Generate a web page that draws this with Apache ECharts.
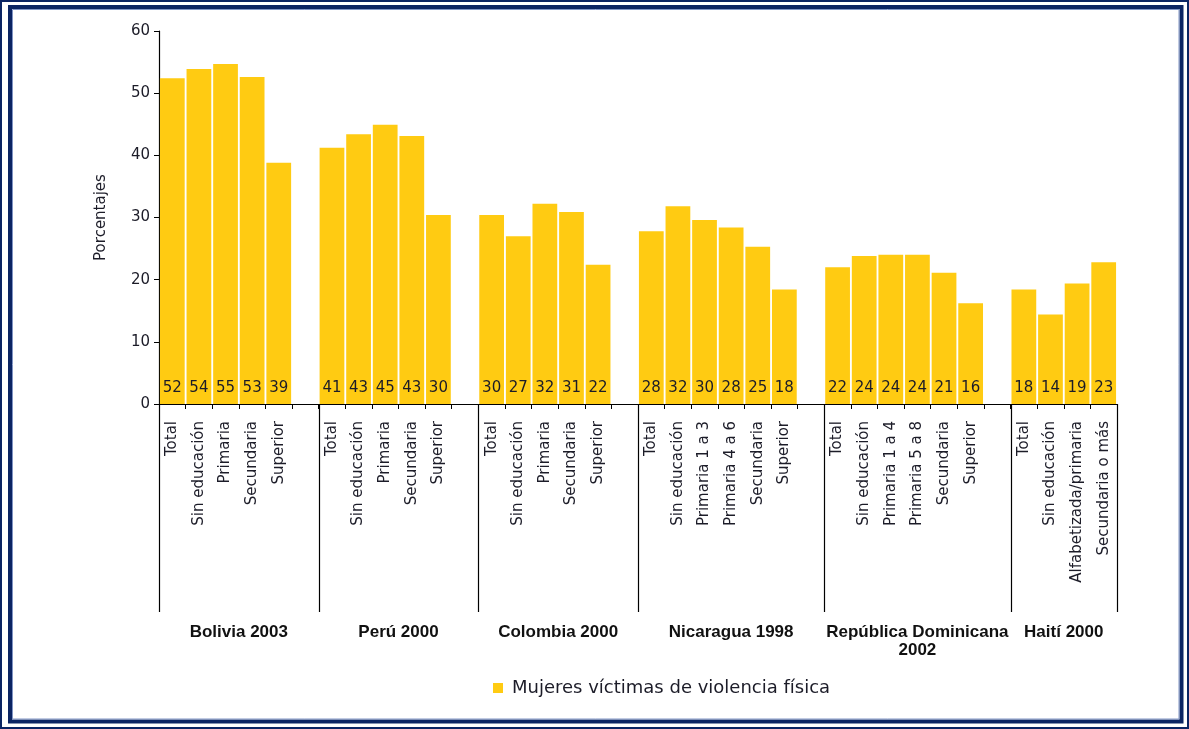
<!DOCTYPE html>
<html>
<head>
<meta charset="utf-8">
<script src="https://cdn.jsdelivr.net/npm/echarts@6/dist/echarts.min.js"></script>
<style>
html,body{margin:0;padding:0;background:#fff;}
#chart{width:1189px;height:729px;}
</style>
</head>
<body>
<div id="chart"></div>
<script>
// ---- Data ----
const groupNames = ['Bolivia 2003', 'Perú 2000', 'Colombia 2000', 'Nicaragua 1998', 'República Dominicana\n2002', 'Haití 2000'];
const boliviaLevels = ['Total', 'Sin educación', 'Primaria', 'Secundaria', 'Superior'];
const boliviaValues = [52.4, 53.9, 54.7, 52.6, 38.8];
const peruLevels = ['Total', 'Sin educación', 'Primaria', 'Secundaria', 'Superior'];
const peruValues = [41.2, 43.4, 44.9, 43.1, 30.4];
const colombiaLevels = ['Total', 'Sin educación', 'Primaria', 'Secundaria', 'Superior'];
const colombiaValues = [30.4, 27.0, 32.2, 30.9, 22.4];
const nicaraguaLevels = ['Total', 'Sin educación', 'Primaria 1 a 3', 'Primaria 4 a 6', 'Secundaria', 'Superior'];
const nicaraguaValues = [27.8, 31.8, 29.6, 28.4, 25.3, 18.4];
const dominicanaLevels = ['Total', 'Sin educación', 'Primaria 1 a 4', 'Primaria 5 a 8', 'Secundaria', 'Superior'];
const dominicanaValues = [22.0, 23.8, 24.0, 24.0, 21.1, 16.2];
const haitiLevels = ['Total', 'Sin educación', 'Alfabetizada/primaria', 'Secundaria o más'];
const haitiValues = [18.4, 14.4, 19.4, 22.8];
const seriesName = 'Mujeres víctimas de violencia física';
const yTicks = [0, 10, 20, 30, 40, 50, 60];

// ---- Build flat category list with a blank slot after each group ----
const groupLevels = [boliviaLevels, peruLevels, colombiaLevels, nicaraguaLevels, dominicanaLevels, haitiLevels];
const groupValues = [boliviaValues, peruValues, colombiaValues, nicaraguaValues, dominicanaValues, haitiValues];
const catKeys = [], catLabels = [], barData = [], groupStart = [];
groupLevels.forEach((lv, g) => {
  groupStart.push(catKeys.length);
  lv.forEach((l, i) => {
    catKeys.push('c' + catKeys.length);
    catLabels.push(l);
    barData.push(groupValues[g][i]);
  });
  if (g < groupLevels.length - 1) {
    catKeys.push('c' + catKeys.length);
    catLabels.push('');
    barData.push(null);
  }
});
const groupEnd = groupStart.slice(1).concat([catKeys.length]);

const FONT = 'DejaVu Sans';
const TXT = '#1c1c28';
const NAVY = '#0b2463';
const chart = echarts.init(document.getElementById('chart'));
chart.setOption({
  animation: false,
  grid: {left: 159, right: 72, top: 31, bottom: 325, containLabel: false},
  legend: {
    data: [seriesName], left: 493, top: 679, padding: 0,
    icon: 'rect', itemWidth: 10, itemHeight: 10,
    textStyle: {fontFamily: FONT, fontSize: 18, color: TXT, padding: [0, 0, 0, 4]}
  },
  xAxis: {
    type: 'category', data: catKeys,
    axisLine: {lineStyle: {color: '#000', width: 1.2}},
    axisTick: {show: true, length: 5, alignWithLabel: false, interval: 0, lineStyle: {color: '#000'}},
    axisLabel: {
      interval: 0, rotate: 90, margin: 17,
      fontFamily: FONT, fontSize: 15, color: TXT,
      formatter: (v, i) => catLabels[i]
    },
    splitLine: {show: false}
  },
  yAxis: {
    type: 'value', min: yTicks[0], max: yTicks[yTicks.length - 1], interval: 10,
    name: 'Porcentajes', nameLocation: 'middle', nameRotate: 90, nameGap: 50,
    nameTextStyle: {fontFamily: FONT, fontSize: 15, color: TXT},
    axisLine: {show: true, lineStyle: {color: '#000', width: 1.2}},
    axisTick: {show: true, length: 5, lineStyle: {color: '#000'}},
    axisLabel: {fontFamily: FONT, fontSize: 15, color: TXT, margin: 9},
    splitLine: {show: false}
  },
  series: [{
    name: seriesName, type: 'bar', data: barData,
    barCategoryGap: '7%',
    itemStyle: {color: '#FFCB12'},
    label: {
      show: true, position: 'insideBottom', distance: 8,
      fontFamily: FONT, fontSize: 15, color: TXT,
      formatter: p => (p.value == null ? '' : Math.round(p.value))
    }
  }]
});

// ---- Separators, group labels and frame, positioned through the axis scale ----
function boundary(idx) {
  const c0 = chart.convertToPixel({xAxisIndex: 0}, catKeys[0]);
  const c1 = chart.convertToPixel({xAxisIndex: 0}, catKeys[1]);
  const band = c1 - c0;
  return c0 - band / 2 + idx * band;
}
const y0 = chart.convertToPixel({yAxisIndex: 0}, 0);
const graphics = [];
const sepIdx = groupStart.concat([catKeys.length]);
sepIdx.forEach(i => {
  const x = Math.round(boundary(i)) + 0.5;
  graphics.push({type: 'line', shape: {x1: x, y1: y0, x2: x, y2: 612}, style: {stroke: '#000', lineWidth: 1.2}, silent: true});
});
groupNames.forEach((n, g) => {
  const xa = boundary(groupStart[g]), xb = boundary(groupEnd[g]);
  graphics.push({type: 'text', x: (xa + xb) / 2, y: 623,
    style: {text: n, textAlign: 'center', textVerticalAlign: 'top', fontFamily: 'Liberation Sans', fontWeight: 'bold', fontSize: 17, lineHeight: 18, fill: '#111'}});
});
graphics.push({type: 'rect', shape: {x: 1, y: 1, width: 1187, height: 727}, style: {fill: 'none', stroke: NAVY, lineWidth: 2}, silent: true});
graphics.push({type: 'rect', shape: {x: 10, y: 7, width: 1171.5, height: 714.5}, style: {fill: 'none', stroke: NAVY, lineWidth: 4}, silent: true});
graphics.push({type: 'rect', shape: {x: 12.5, y: 9.5, width: 1166.5, height: 709.5}, style: {fill: 'none', stroke: '#8094c4', lineWidth: 1}, silent: true});
chart.setOption({graphic: graphics});
</script>
</body>
</html>
